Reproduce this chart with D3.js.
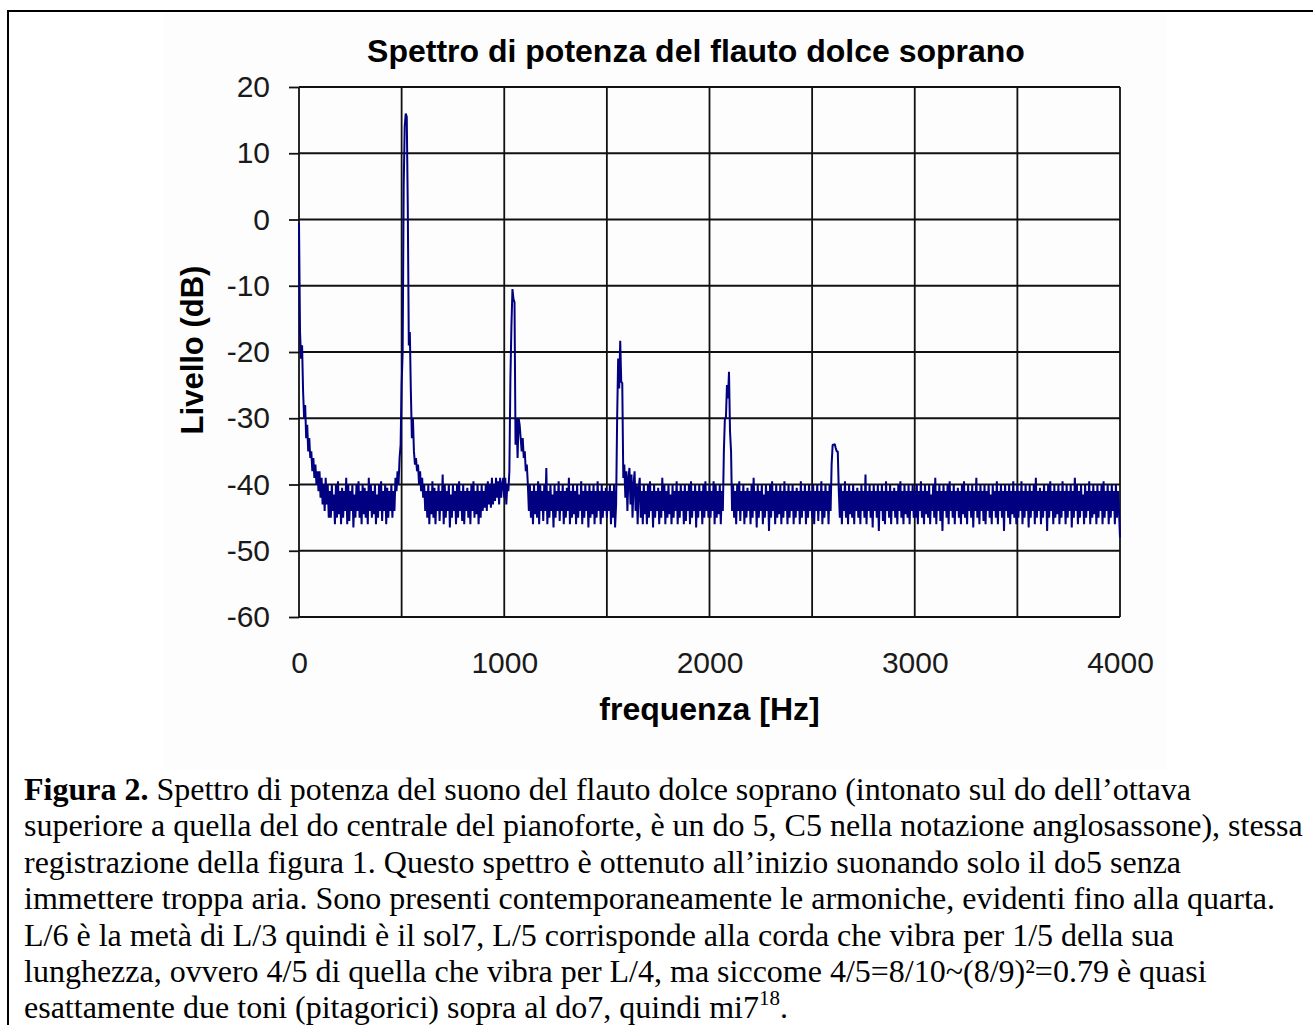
<!DOCTYPE html>
<html>
<head>
<meta charset="utf-8">
<script src="https://cdn.jsdelivr.net/npm/d3@7"></script>
<style>
body { margin:0; background:#fff; }
svg text { font-family: "Liberation Sans", Arial, sans-serif; }
</style>
</head>
<body>
<svg id="chartSVG" width="1313" height="1025"></svg>
<script>

// spettro, un valore ogni 5 Hz (dB)
binHz = 5

band0 = [-0.5,-17,-21,-19,-26,-30,-28,-33,-31,-35, -33,-36,-35,-38,-36,-39,-37,-40,-38,-41,
  -38,-42,-39,-43,-40,-44,-39,-43,-40,-45,
  -41,-45,-40,-44,-41.5,-46,-40,-45,-39.5,-44.5, -41,-46,-40.5,-45,-41,-44,-39,-46,-40,-45.5,
  -41,-44,-40,-46.5,-41.5,-45,-40,-44,-39.5,-45, -41,-46,-40,-44.5,-40.5,-45,-41,-46,-39,-44,
  -40,-45,-41,-44.5,-40,-46,-41.5,-45,-40,-44, -39.5,-45.5,-41,-44,-40,-46,-40.5,-45,-41,-44,
  -40,-45,-41,-44,
  -39,-41,-38,-40,-36,-34]

band1 = [-25,-20,5,14,16,15.5,2,-19,-17,-26, -33,-30,-35,-37,-36,-38,-37,-40,-38,-41, -39,-42,-40,
  -44,-41,-45,-40,-46,-41,-44.5,-39.5,-45,-40.5, -46,-41,-44,-40,-45.5,-41,-44,-38.5,-46,-40,
  -45,-41,-44,-40,-46.5,-41.5,-45,-40,-44,-41, -46,-40,-45,-39.5,-44,-41,-45.5,-40,-46,-41,
  -44,-40.5,-45,-41,-46,-40,-44,-39.5,-45,-41, -44.5,-40,-46,-41,-45,-40,-44,-41,-43.5,-40,
  -44,-39.5,-43,-40,-43.5,-39,-43,-40,-42.5,-39, -42,-39.5,-43,-39,-42,-40,-39]

band2 = [-42,-39,-43,-40,-41,
  -38,-24,-16,-10.5,-12,-12.5,-34,-30,-36,-30, -31,-33,-35,-33,-36,-35,-38,-37,-40,
  -44,-40,-45,-41,-46,-40,-44.5,-41,-45,-39.5, -46,-40,-44,-41,-45.5,-40,-44,-37.5,-46,-41,
  -45,-40,-44,-41.5,-46.5,-40,-45,-41,-44,-39.5, -45.5,-41,-44,-40,-46,-41,-45,-40.5,-44,-39,
  -46,-41,-45,-40,-44.5,-41,-46,-40,-45,-41.5, -44,-39.5,-46,-41,-45,-40,-44,-41,-46.5,-40,
  -45,-41,-44.5,-40,-46,-41,-45,-39.5,-44,-41, -46,-40,-45,-41,-44,-40.5]

band3 = [-45,-41,-44,-40,-46,-41,-45,-40,-46.5,
  -43,-30,-21,-25.5,-18.3,-24.5,-24.7,-39,-37,
  -42,-38,-44,-39,-37.5,-43,-38.5,-45,-40,-38, -44,-40,-46,-40.5,-39,-45,-41,-46,-40,-44.5,
  -41,-46,-40,-45,-39.5,-44,-41,-46.5,-40,-45, -41,-44,-40.5,-46,-41,-45,-39,-44,-40,-46,
  -41,-45,-40,-44.5,-41.5,-46,-40,-45,-41,-44, -39.5,-46,-41,-45,-40,-44,-41,-46,-40,-45.5,
  -41,-44,-40,-46,-39.5,-45,-41,-44,-40,-46.5, -41,-45,-40,-44,-41,-46,-40,-45,-39.5,-44,
  -41,-45]

band4 = [-40,-45,-41,-44,-39.5,-46,-40,-45,-41,-44.5,-40,-46,-41,
  -44,-35,-30,-30,-25,-27,-23,-32,-35,-44,
  -40,-45,-41,-46,-40,-44,-39.5,-45.5,-41,-44, -40,-46,-41,-45,-40.5,-44,-41,-46,-40,-45,
  -39,-44,-41,-46.5,-40,-45,-41,-44,-40,-46, -41.5,-45,-40,-44,-41,-47,-40,-45,-39.5,-44,
  -41,-46,-40,-45,-41,-44.5,-40,-46,-41,-45, -39.5,-44,-41,-46,-40,-45,-41,-44,-40,-46,
  -41,-45,-40.5,-44,-41,-46,-39.5,-45,-41,-44, -40,-46,-41,-45,-40,-44,-41]

band5 = [-45,-40,-46,-41,-44,-40,-45.5,-41,-44,-39.5,-46,-41,-45,-40,-44,-41,-46,-40,
  -44,-37,-34,-34,-33.9,-34.5,-35,-35,-41,
  -45,-40,-46,-41,-44,-39.5,-45,-41,-46,-40, -44.5,-41,-45,-40,-46,-41,-44,-40.5,-45,-41,
  -46,-40,-44,-41,-45,-38.5,-46,-41,-44,-40, -45,-41,-46.5,-40,-44,-41,-45,-40,-47,-41,
  -44,-40,-45.5,-41,-46,-39.5,-44,-41,-45,-40, -46,-41,-44,-40.5,-45,-41,-46,-40,-44,-39.5,
  -45,-41,-46,-40,-44.5,-41,-45,-40,-46,-41, -44,-40,-45]

band6 = [-41,-45,-40,-46,-41,-44,-39.5,-45,-41,-46, -40,-44.5,-41,-45,-40,-46,-41.5,-44,-40,-45,
  -39,-46,-41,-44,-40,-45.5,-41,-47,-40,-44, -41,-45,-40,-46,-39.5,-44,-41,-45,-40,-46,
  -41,-44,-40.5,-45,-41,-46,-40,-44.5,-39.5,-45, -41,-46,-40,-44,-41,-45,-40,-46.5,-41,-44,
  -39,-45,-41,-46,-40,-44,-41,-45.5,-40,-46, -41,-44,-40,-45,-41.5,-46,-40,-44,-41,-45,
  -39.5,-46,-41,-44,-40,-45,-41,-47,-40,-44, -41,-45,-40,-46,-41,-44.5,-39.5,-45,-41,-46]

band7 = [-40,-45,-41,-44,-39.5,-46,-41,-45,-40,-44, -41,-46.5,-40,-45,-41,-44,-40,-46,-39,-45,
  -41,-44,-40.5,-46,-41,-45,-40,-44,-41,-47, -40,-45,-39.5,-44,-41,-46,-40,-45,-41,-44.5,
  -40,-46,-41,-45,-39.5,-44,-41,-46,-40,-45, -41,-44,-40,-46.5,-41,-45,-39,-44,-40,-46,
  -41,-45,-40,-44,-41.5,-46,-40,-45,-41,-44, -39.5,-46,-41,-45,-40,-44.5,-41,-46,-40,-45,
  -41,-44,-40,-46,-39.5,-45,-41,-44,-40,-46, -41,-45,-40,-44,-41,-46,-40,-45,-41,-44,
  -48]

yTicks = [20,10,0,-10,-20,-30,-40,-50,-60]
xTicks = [0,1000,2000,3000,4000]
xGrid = [0,500,1000,1500,2000,2500,3000,3500,4000]

titleText = "Spettro di potenza del flauto dolce soprano"
xLabel = "frequenza [Hz]"
yLabel = "Livello (dB)"

captionLines = [
  "Spettro di potenza del suono del flauto dolce soprano (intonato sul do dell\u2019ottava",
  "superiore a quella del do centrale del pianoforte, \u00e8 un do 5, C5 nella notazione anglosassone), stessa",
  "registrazione della figura 1. Questo spettro \u00e8 ottenuto all\u2019inizio suonando solo il do5 senza",
  "immettere troppa aria. Sono presenti contemporaneamente le armoniche, evidenti fino alla quarta.",
  "L/6 \u00e8 la met\u00e0 di L/3 quindi \u00e8 il sol7, L/5 corrisponde alla corda che vibra per 1/5 della sua",
  "lunghezza, ovvero 4/5 di quella che vibra per L/4, ma siccome 4/5=8/10~(8/9)\u00b2=0.79 \u00e8 quasi",
  "esattamente due toni (pitagorici) sopra al do7, quindi mi7"
]


function makeSpectrum()
{
  var levels = band0.concat(band1, band2, band3, band4, band5, band6, band7)
  return levels.map(function(d,i){
    return {f: i*binHz, db: d}
  })
}

function drawChart(svg)
{
  var left = 299, right = 1120, top = 87, bottom = 617

  var x = d3.scaleLinear().domain([0,4000]).range([left,right])
  var y = d3.scaleLinear().domain([-60,20]).range([bottom,top])

  svg.append("rect")
  .attr("x",163).attr("y",13)
  .attr("width",1003).attr("height",757)
  .attr("fill","#fdfdfd")

  // griglia
  svg.append("g").selectAll("line")
  .data(yTicks)
  .enter()
  .append("line")
  .attr("x1",left).attr("x2",right)
  .attr("y1",function(d){ return y(d) })
  .attr("y2",function(d){ return y(d) })
  .attr("stroke","#111")
  .attr("stroke-width",1.8)

  svg.append("g").selectAll("line")
  .data(xGrid)
  .enter()
  .append("line")
  .attr("x1",function(d){ return x(d) })
  .attr("x2",function(d){ return x(d) })
  .attr("y1",top).attr("y2",bottom)
  .attr("stroke","#111")
  .attr("stroke-width",1.8)

  var yAxis = svg.append("g")
  .attr("transform","translate("+left+",0)")
  .call(d3.axisLeft(y).tickValues(yTicks).tickSize(10).tickSizeOuter(0).tickPadding(19)
    .tickFormat(function(d){ return String(d) }))
  yAxis.select(".domain").remove()
  yAxis.selectAll("line").attr("stroke","#111").attr("stroke-width",1.8)
  yAxis.selectAll("text")
  .attr("font-size",30)
  .attr("font-family","Liberation Sans, Arial, sans-serif")
  .attr("fill","#1a1a1a")

  var xAxis = svg.append("g")
  .attr("transform","translate(0,"+bottom+")")
  .call(d3.axisBottom(x).tickValues(xTicks).tickSize(0).tickPadding(35)
    .tickFormat(function(d){ return String(d) }))
  xAxis.select(".domain").remove()
  xAxis.selectAll("text")
  .attr("font-size",30)
  .attr("font-family","Liberation Sans, Arial, sans-serif")
  .attr("fill","#1a1a1a")

  var line = d3.line()
  .x(function(d){ return x(d.f) })
  .y(function(d){ return y(d.db) })

  svg.append("path")
  .datum(makeSpectrum())
  .attr("d",line)
  .attr("fill","none")
  .attr("stroke","#000080")
  .attr("stroke-width",2)
  .attr("stroke-linejoin","bevel")

  svg.append("text")
  .attr("x",696).attr("y",62)
  .attr("text-anchor","middle")
  .attr("font-size",32)
  .attr("font-weight","bold")
  .attr("fill","#000")
  .text(titleText)

  svg.append("text")
  .attr("x",(left+right)/2).attr("y",720)
  .attr("text-anchor","middle")
  .attr("font-size",32)
  .attr("font-weight","bold")
  .attr("fill","#000")
  .text(xLabel)

  svg.append("text")
  .attr("transform","translate(203,350) rotate(-90)")
  .attr("text-anchor","middle")
  .attr("font-size",31)
  .attr("font-weight","bold")
  .attr("fill","#000")
  .text(yLabel)
}

function drawCaption(svg)
{
  var cap = svg.append("g")
  .attr("font-size",32)
  .attr("fill","#000")

  cap.selectAll("text")
  .data(captionLines)
  .enter()
  .append("text")
  .attr("x",24)
  .attr("y",function(d,i){ return 800 + i*36.4 })
  .style("font-family","Liberation Serif, Times New Roman, serif")
  .each(function(d,i){
    var t = d3.select(this)
    if(i==0)
    {
      t.append("tspan").attr("font-weight","bold").text("Figura 2.")
      t.append("tspan").text(" "+d)
    }
    else
    {
      t.append("tspan").text(d)
    }
    if(i==captionLines.length-1)
    {
      t.append("tspan").attr("font-size",21).attr("dy",-13).text("18")
      t.append("tspan").attr("dy",13).text(".")
    }
  })
}

var svg = d3.select("#chartSVG")

svg.append("rect")
.attr("x",8).attr("y",11)
.attr("width",1400).attr("height",1100)
.attr("fill","#fff")
.attr("stroke","#000")
.attr("stroke-width",2)

drawChart(svg)
drawCaption(svg)

</script>
</body>
</html>
